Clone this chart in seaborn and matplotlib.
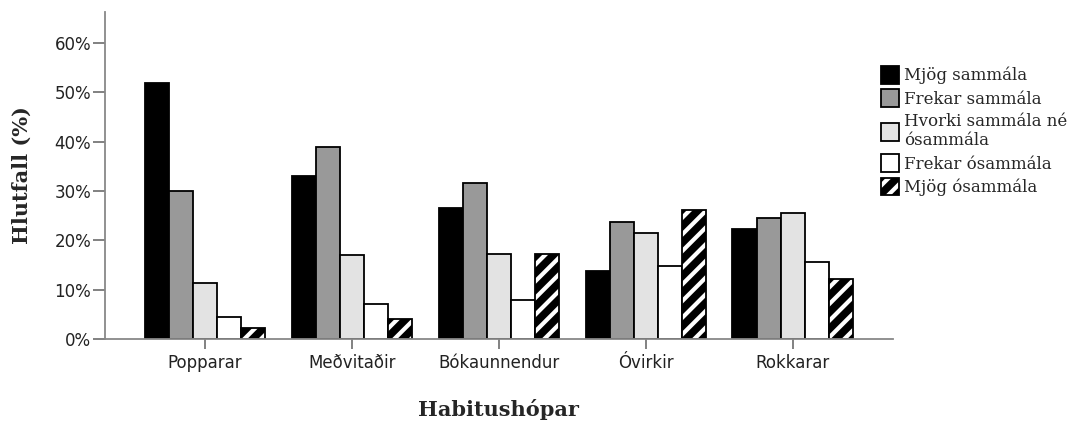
import numpy as np
import pandas as pd
import seaborn as sns
import matplotlib.pyplot as plt
from matplotlib.patches import Rectangle

groups = ['Popparar', 'Meðvitaðir', 'Bókaunnendur', 'Óvirkir', 'Rokkarar']
answers = ['Mjög sammála', 'Frekar sammála', 'Hvorki sammála né\nósammála',
           'Frekar ósammála', 'Mjög ósammála']
mjog_sammala = [52.0, 33.0, 26.5, 13.8, 22.3]
frekar_sammala = [30.0, 39.0, 31.6, 23.8, 24.5]
hvorki = [11.3, 17.0, 17.2, 21.5, 25.6]
frekar_osammala = [4.5, 7.0, 7.9, 14.8, 15.6]
mjog_osammala = [2.3, 4.0, 17.2, 26.2, 12.2]
yticks = [0, 10, 20, 30, 40, 50, 60]

colors = ['#000000', '#999999', '#e3e3e3', '#ffffff', '#000000']

series = [mjog_sammala, frekar_sammala, hvorki, frekar_osammala, mjog_osammala]
df = pd.DataFrame({
    'group': np.repeat([groups], len(answers), axis=0).ravel(),
    'answer': np.repeat(answers, len(groups)),
    'pct': np.concatenate(series),
})

sns.set_style('white')
plt.rcParams['hatch.linewidth'] = 3.0

fig = plt.figure(figsize=(10.82, 4.23), dpi=100)
ax = fig.add_axes([0.097, 0.1986, 0.728, 0.773])

sns.barplot(data=df, x='group', y='pct', hue='answer', order=groups,
            hue_order=answers, palette=colors, width=0.82, gap=0,
            edgecolor='black', linewidth=1.3, saturation=1, legend=False, ax=ax)

# last series: black with white diagonal stripes, outlined in black
hatched = ax.containers[-1]
outline = None
for p in hatched.patches:
    p.set_facecolor('black')
    p.set_edgecolor('white')
    p.set_linewidth(0)
    p.set_hatch('//')
    r = Rectangle(p.get_xy(), p.get_width(), p.get_height(), fill=False,
                  edgecolor='black', linewidth=1.3, zorder=p.get_zorder() + 0.1)
    ax.add_patch(r)
    if outline is None:
        outline = r

ax.set_xlim(-0.68, 4.68)
ax.set_ylim(0, 66.3)
ax.set_yticks(yticks)
ax.set_yticklabels([f'{t}%' for t in yticks], fontfamily='DejaVu Sans',
                   fontsize=12, color='#222222')
ax.set_xticks(range(len(groups)))
ax.set_xticklabels(groups, fontfamily='DejaVu Sans', fontsize=12, color='#222222')
ax.tick_params(axis='both', direction='out', width=1.3, color='#777777',
               bottom=True, left=True)
ax.tick_params(axis='x', length=7, pad=4)
ax.tick_params(axis='y', length=9, pad=1)

for s in ['top', 'right']:
    ax.spines[s].set_visible(False)
for s in ['left', 'bottom']:
    ax.spines[s].set_color('#888888')
    ax.spines[s].set_linewidth(1.3)

ax.set_xlabel('Habitushópar', fontfamily='DejaVu Serif', fontweight='bold',
              fontsize=15, labelpad=19)
ax.set_ylabel('Hlutfall (%)', fontfamily='DejaVu Serif', fontweight='bold',
              fontsize=15, labelpad=16)

handles = [c.patches[0] for c in ax.containers[:4]] + [(hatched.patches[0], outline)]
leg = fig.legend(handles, answers, loc='upper left', bbox_to_anchor=(0.808, 0.86),
                 frameon=False, prop={'family': 'DejaVu Serif', 'size': 12},
                 handlelength=1.1, handleheight=1.25, handletextpad=0.3,
                 labelspacing=0.3, borderaxespad=0)

fig.savefig('out.png', dpi=100)
